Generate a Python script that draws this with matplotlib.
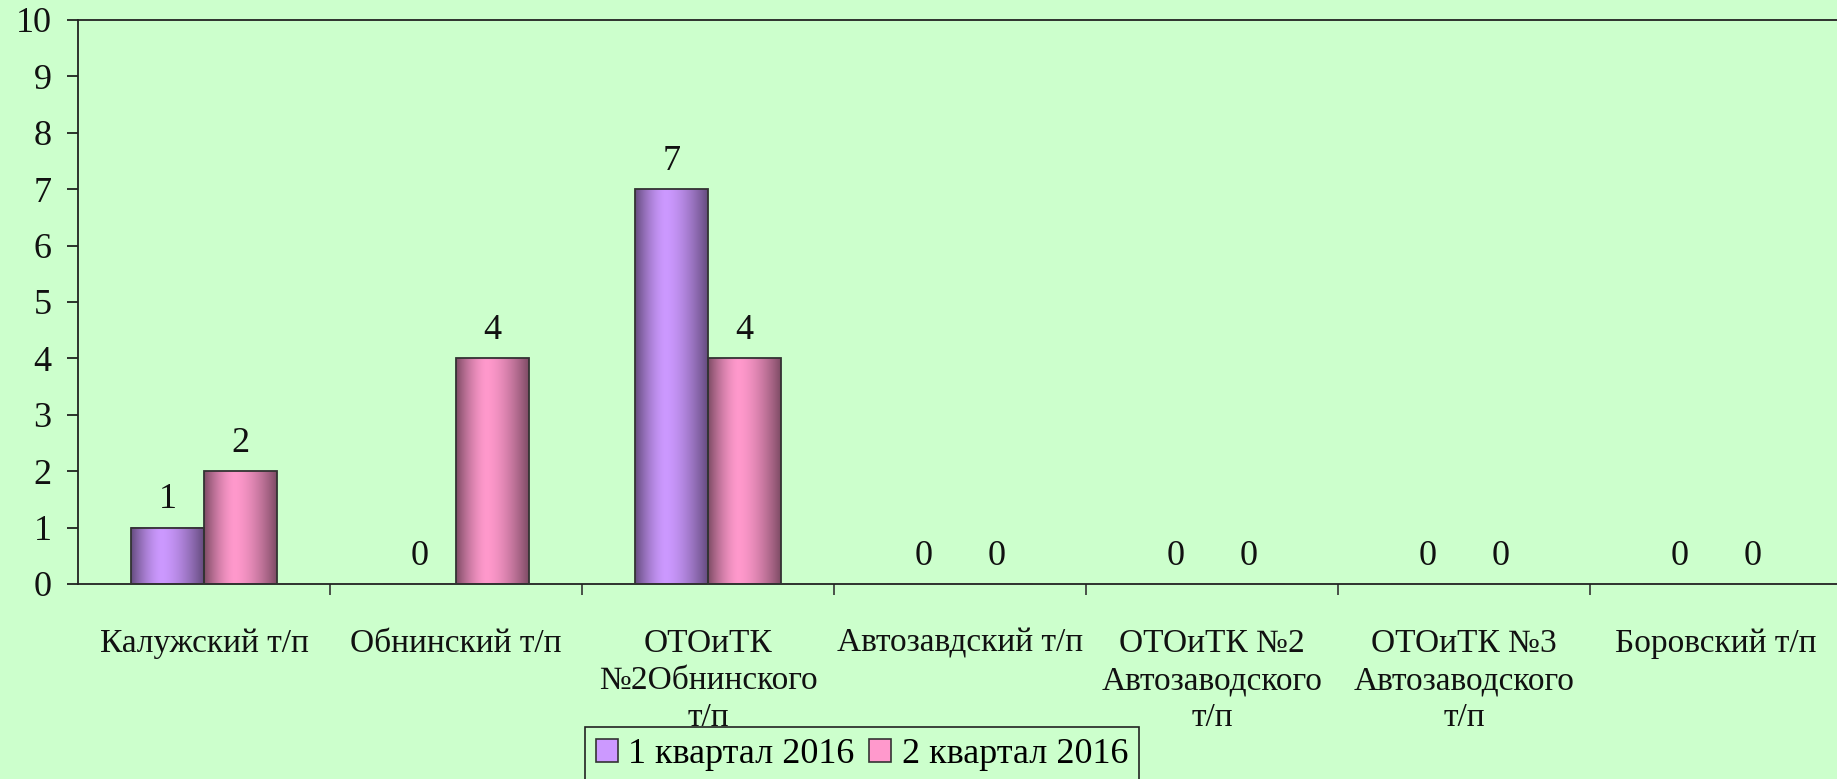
import numpy as np
import matplotlib
matplotlib.use('Agg')
import matplotlib.pyplot as plt
from matplotlib.colors import to_rgb
from matplotlib.patches import Patch

plt.rcParams['font.family'] = ['Liberation Serif', 'DejaVu Serif']

categories = ['Калужский т/п', 'Обнинский т/п', 'ОТОиТК\n№2Обнинского\nт/п',
              'Автозавдский т/п', 'ОТОиТК №2\nАвтозаводского\nт/п',
              'ОТОиТК №3\nАвтозаводского\nт/п', 'Боровский т/п']
series_names = ['1 квартал 2016', '2 квартал 2016']
q1 = [1, 0, 7, 0, 0, 0, 0]
q2 = [2, 4, 4, 0, 0, 0, 0]
series_values = [q1, q2]
colors = ['#CC99FF', '#FF99CC']
bg = '#CCFFCC'


def gradient_strip(color, n=64):
    # dark edges, light band a bit left of centre
    t = np.linspace(0, 1, n)
    peak = 0.42
    d = np.where(t < peak, (peak - t) / peak, (t - peak) / (1 - peak))
    f = 1 - 0.5 * d ** 1.6
    rgb = np.array(to_rgb(color))
    return (f[:, None] * rgb[None, :])[None, :, :]


fig = plt.figure(figsize=(18.37, 7.79), dpi=100, facecolor=bg)
ax = fig.add_axes([78 / 1837, (779 - 584) / 779, 1764 / 1837, (584 - 20) / 779])
ax.set_facecolor(bg)

n = len(categories)
bw = 0.288
x = np.arange(n) + 0.5
for k, vals in enumerate(series_values):
    offs = x - bw + k * bw
    bars = ax.bar(offs, vals, width=bw, align='edge', color='none',
                  edgecolor='#333333', linewidth=1.3, zorder=3)
    for b, v in zip(bars, vals):
        if v > 0:
            ax.imshow(gradient_strip(colors[k]), extent=[b.get_x(), b.get_x() + bw, 0, v],
                      aspect='auto', interpolation='bicubic', zorder=2)
        ax.annotate(str(v), (b.get_x() + bw / 2, v), xytext=(0, 8),
                    textcoords='offset points', ha='center', va='bottom',
                    fontsize=26, color='#111111')

ax.set_xlim(0, n)
ax.set_ylim(0, 10)
ax.set_yticks(range(0, 11))
ax.tick_params(axis='y', direction='out', length=8, width=1.2, pad=11,
               labelsize=26, colors='#111111')

ax.set_xticks(range(1, n))
ax.set_xticklabels([])
ax.set_xticks(x, minor=True)
ax.set_xticklabels(categories, minor=True, fontsize=24, linespacing=1.28)
ax.tick_params(axis='x', which='major', direction='out', length=8, width=1.2, colors='#333333')
ax.tick_params(axis='x', which='minor', length=0, pad=32, labelcolor='#111111')

for side in ['left', 'bottom', 'top']:
    ax.spines[side].set_color('#222222')
    ax.spines[side].set_linewidth(1.3)
ax.spines['right'].set_visible(False)

handles = [Patch(facecolor=c, edgecolor='#333333', linewidth=1.2) for c in colors]
leg = fig.legend(handles, series_names, loc='upper center',
                 bbox_to_anchor=(862 / 1837, (779 - 727) / 779), ncol=2,
                 fontsize=26, frameon=True, fancybox=False, edgecolor='#222222',
                 facecolor=bg, framealpha=1, handlelength=0.6, handleheight=0.6,
                 handletextpad=0.3, columnspacing=0.4, borderpad=0.3,
                 borderaxespad=0)
leg.get_frame().set_linewidth(1.2)

fig.savefig('out.png', dpi=100, facecolor=bg)
